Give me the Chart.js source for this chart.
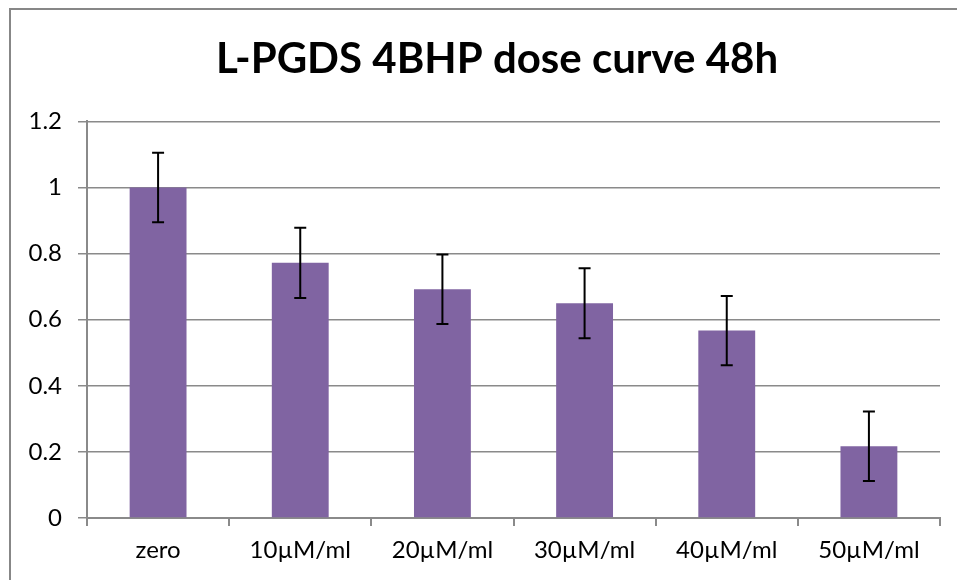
<!DOCTYPE html>
<html lang="en">

<head>
    <meta charset="UTF-8">
    <title>L-PGDS 4BHP dose curve 48h</title>
    <style>
        html, body {
            margin: 0;
            padding: 0;
            overflow: hidden;
            background: #fff;
        }

        .frame {
            position: absolute;
            left: 9px;
            top: 8px;
            width: 972px;
            height: 570px;
            border-top: 2px solid #878787;
            border-left: 2px solid #878787;
        }
    </style>
</head>

<body>
    <div class="frame">
        <canvas id="myChart" width="972" height="570"></canvas>
    </div>

    <script src="https://cdn.jsdelivr.net/npm/chart.js"></script>

    <script>
        // Categories, bar heights and error sizes
        const categories = ['zero', '10\u00b5M/ml', '20\u00b5M/ml', '30\u00b5M/ml', '40\u00b5M/ml', '50\u00b5M/ml'];
        const means = [1.0, 0.772, 0.692, 0.650, 0.567, 0.217];
        const errors = [0.105, 0.106, 0.105, 0.106, 0.105, 0.105];
        const yTicks = [0, 0.2, 0.4, 0.6, 0.8, 1, 1.2];

        const fontFamily = 'Lato, "Open Sans", sans-serif';
        const gridColor = '#8a8a8a';

        // draw the error bars on top of the bars
        const errorBars = {
            id: 'errorBars',
            afterDatasetsDraw(chart) {
                const ctx = chart.ctx;
                const y = chart.scales.y;
                const meta = chart.getDatasetMeta(0);
                ctx.save();
                ctx.strokeStyle = '#000';
                ctx.lineWidth = 2;
                meta.data.forEach((bar, i) => {
                    const top = y.getPixelForValue(means[i] + errors[i]);
                    const bottom = y.getPixelForValue(means[i] - errors[i]);
                    ctx.beginPath();
                    ctx.moveTo(bar.x, top);
                    ctx.lineTo(bar.x, bottom);
                    ctx.moveTo(bar.x - 6, top);
                    ctx.lineTo(bar.x + 6, top);
                    ctx.moveTo(bar.x - 6, bottom);
                    ctx.lineTo(bar.x + 6, bottom);
                    ctx.stroke();
                });
                ctx.restore();
            }
        };

        const data = {
            labels: categories,
            datasets: [{
                data: means,
                backgroundColor: '#8064A2',
                borderWidth: 0,
                barPercentage: 0.4,
                categoryPercentage: 1.0
            }]
        };

        const config = {
            type: 'bar',
            data: data,
            plugins: [errorBars],
            options: {
                responsive: false,
                animation: false,
                layout: {
                    padding: 0
                },
                plugins: {
                    legend: { display: false },
                    tooltip: { enabled: false },
                    title: {
                        display: true,
                        text: 'L-PGDS 4BHP dose curve 48h',
                        color: '#000',
                        font: { family: fontFamily, size: 42, weight: 'bold', lineHeight: 1.2 },
                        padding: { top: 24, bottom: 37 }
                    }
                },
                scales: {
                    x: {
                        offset: true,
                        afterFit: (scale) => { scale.height = 62; },
                        grid: {
                            offset: true,
                            drawOnChartArea: false,
                            drawTicks: true,
                            tickLength: 8,
                            color: gridColor,
                            lineWidth: 2
                        },
                        border: { display: true, color: gridColor, width: 2 },
                        ticks: {
                            color: '#000',
                            padding: 10,
                            font: { family: fontFamily, size: 24 }
                        }
                    },
                    y: {
                        min: 0,
                        max: 1.2,
                        afterFit: (scale) => { scale.width = 76; },
                        afterBuildTicks: (scale) => {
                            scale.ticks = yTicks.map(v => ({ value: v }));
                        },
                        grid: {
                            color: gridColor,
                            lineWidth: 1.5,
                            tickLength: 9
                        },
                        border: { display: true, color: gridColor, width: 2 },
                        ticks: {
                            color: '#000',
                            padding: 16,
                            font: { family: fontFamily, size: 24 },
                            callback: (v) => String(+v.toFixed(1))
                        }
                    },
                    // empty space on the right so the plot ends where the original does
                    // while the title stays centred on the whole chart
                    spacer: {
                        type: 'linear',
                        position: 'right',
                        afterFit: (scale) => { scale.width = 43; },
                        grid: { display: false },
                        border: { display: false },
                        ticks: { display: false }
                    }
                }
            }
        };

        const myChart = new Chart(
            document.getElementById('myChart'),
            config
        );
    </script>
</body>

</html>
